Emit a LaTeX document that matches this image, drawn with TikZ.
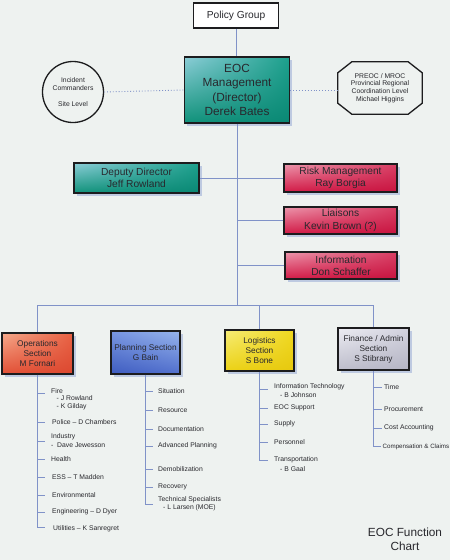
\documentclass[tikz,border=0pt]{standalone}
\usepackage{fontspec}
\setmainfont{Liberation Sans}
\usetikzlibrary{shadows,shadings,calc}
\definecolor{bgcol}{RGB}{238,242,240}
\definecolor{linecol}{RGB}{128,146,200}
\definecolor{shcol}{RGB}{178,192,222}
\definecolor{txtcol}{RGB}{40,40,45}
\definecolor{bordercol}{RGB}{28,28,30}
\definecolor{tealA}{RGB}{140,205,215}
\definecolor{tealB}{RGB}{28,160,140}
\definecolor{tealC}{RGB}{16,146,122}
\definecolor{tealD}{RGB}{10,136,116}
\definecolor{crimA}{RGB}{236,150,172}
\definecolor{crimB}{RGB}{216,62,100}
\definecolor{crimC}{RGB}{210,26,70}
\definecolor{crimD}{RGB}{200,20,64}
\definecolor{orA}{RGB}{245,170,140}
\definecolor{orB}{RGB}{232,96,66}
\definecolor{orC}{RGB}{226,80,54}
\definecolor{orD}{RGB}{220,72,48}
\definecolor{blA}{RGB}{120,150,225}
\definecolor{blB}{RGB}{150,180,235}
\definecolor{blC}{RGB}{62,92,192}
\definecolor{blD}{RGB}{82,112,206}
\definecolor{yeA}{RGB}{246,236,120}
\definecolor{yeB}{RGB}{240,216,30}
\definecolor{yeC}{RGB}{236,210,20}
\definecolor{yeD}{RGB}{230,200,15}
\definecolor{grA}{RGB}{236,236,242}
\definecolor{grB}{RGB}{210,210,222}
\definecolor{grC}{RGB}{190,190,204}
\definecolor{grD}{RGB}{180,180,196}
\begin{document}
\begin{tikzpicture}[x=1pt,y=-1pt,
  conn/.style={draw=linecol,line width=0.9pt},
  dotconn/.style={draw=linecol,line width=0.9pt,dotted},
  box/.style={draw=bordercol,line width=1.3pt,align=center,text=txtcol,inner sep=0pt,
     drop shadow={shadow xshift=2.5pt,shadow yshift=-2.5pt,fill=shcol,opacity=0.8}},
  bigfont/.style={font=\fontsize{11.8}{14.3}\selectfont},
  midfont/.style={font=\fontsize{10.2}{12.3}\selectfont},
  sectfont/.style={font=\fontsize{8.3}{10}\selectfont},
  smallfont/.style={font=\fontsize{6.8}{8}\selectfont},
  item/.style={font=\fontsize{6.8}{8}\selectfont,text=txtcol,anchor=west,inner sep=0pt},
  tealfill/.style={upper left=tealA,upper right=tealB,lower left=tealC,lower right=tealD},
  crimfill/.style={upper left=crimA,upper right=crimB,lower left=crimC,lower right=crimD},
  orfill/.style={upper left=orA,upper right=orB,lower left=orC,lower right=orD},
  blfill/.style={upper left=blA,upper right=blB,lower left=blC,lower right=blD},
  yefill/.style={upper left=yeA,upper right=yeB,lower left=yeC,lower right=yeD},
  grfill/.style={upper left=grA,upper right=grB,lower left=grC,lower right=grD}
]
\useasboundingbox (0,0) rectangle (450,560);
\fill[bgcol] (0,0) rectangle (450,560);
\clip (0,0) rectangle (450,560);

% top level
\node[draw=bordercol,line width=1.5pt,fill=white,midfont,text=txtcol,minimum width=85pt,minimum height=25pt,inner sep=0pt] (policy) at (236,15.5) {Policy Group};
\node[box,tealfill,bigfont,line width=1.6pt,minimum width=105pt,minimum height=66pt] (eoc) at (237,90) {EOC\\Management\\(Director)\\Derek Bates};
\node[circle,draw=bordercol,line width=1.3pt,minimum size=61pt,inner sep=0pt,smallfont,align=center,text=txtcol] (circ) at (73,92) {Incident\\Commanders\\[8pt]Site Level};
\node[smallfont,align=center,text=txtcol,minimum width=84pt,minimum height=52pt,inner sep=0pt,font=\fontsize{6.8}{7.7}\selectfont] (oct) at (380,88) {PREOC / MROC\\Provincial Regional\\Coordination Level\\Michael Higgins};
\draw[bordercol,line width=1.3pt] ($(oct.north west)+(14,0)$) -- ($(oct.north east)+(-14,0)$) -- ($(oct.north east)+(0,11)$) -- ($(oct.south east)+(0,-11)$) -- ($(oct.south east)+(-14,0)$) -- ($(oct.south west)+(14,0)$) -- ($(oct.south west)+(0,-11)$) -- ($(oct.north west)+(0,11)$) -- cycle;

% staff
\node[box,tealfill,midfont,minimum width=125pt,minimum height=30pt] (deputy) at (136.5,178) {Deputy Director\\Jeff Rowland};
\node[box,crimfill,midfont,minimum width=113pt,minimum height=28pt] (risk) at (340.5,178) {Risk Management\\Ray Borgia};
\node[box,crimfill,midfont,minimum width=113pt,minimum height=27pt] (liaisons) at (340.5,220.5) {Liaisons\\Kevin Brown (?)};
\node[box,crimfill,midfont,minimum width=112pt,minimum height=27pt] (info) at (341,265.5) {Information\\Don Schaffer};

% sections
\node[box,orfill,sectfont,minimum width=71pt,minimum height=41pt] (ops) at (37.5,353.5) {Operations\\Section\\M Fornari};
\node[box,blfill,sectfont,minimum width=69pt,minimum height=43pt] (plan) at (145.5,352.5) {Planning Section\\G Bain};
\node[box,yefill,sectfont,minimum width=69pt,minimum height=41pt] (log) at (259.5,350.5) {Logistics\\Section\\S Bone};
\node[box,grfill,sectfont,minimum width=71pt,minimum height=42pt] (fin) at (373.5,349) {Finance / Admin\\Section\\S Stibrany};

% connectors top
\draw[conn] (policy) -- (policy |- eoc.north);
\draw[dotconn] (circ.east) -- (eoc.west);
\draw[dotconn] (eoc.east) -- (eoc.east -| oct.west);
\coordinate (busL) at (37.5,305);
\coordinate (busR) at (373.5,305);
\coordinate (busM) at (237,305);
\draw[conn] (eoc.south) -- (busM);
\draw[conn] (deputy.east) -- (risk.west);
\draw[conn] (liaisons.west) -- (liaisons.west -| eoc.south);
\draw[conn] (info.west) -- (info.west -| eoc.south);
\draw[conn] (busL) -- (busR);
\draw[conn] (busL) -- (ops.north);
\draw[conn] (busR) -- (fin.north);
\draw[conn] (log.north |- busL) -- (log.north);

% operations list
\node[item] (o1) at (51,391) {Fire};
\node[item] (o1b) at (56.5,398.5) {- J Rowland};
\node[item] (o1c) at (56.5,407) {- K Gilday};
\node[item] (o2) at (52,422) {Police – D Chambers};
\node[item] (o3) at (51,437) {Industry};
\node[item] (o3b) at (51,445) {-\ \ Dave Jewesson};
\node[item] (o4) at (51,459) {Health};
\node[item] (o5) at (52,477) {ESS – T Madden};
\node[item] (o6) at (52,495) {Environmental};
\node[item] (o7) at (52,512) {Engineering – D Dyer};
\node[item] (o8) at (53,529) {Utilities – K Sanregret};
\coordinate (o1t) at ($(o1.west)+(0,2)$);
\coordinate (o3m) at ($(o3.west)!0.5!(o3b.west)$);
\foreach \n in {o1t,o2,o3m,o4,o5,o6,o7} \draw[conn] (ops.south |- \n) -- ++(7,0);
\coordinate (oEnd) at ($(ops.south |- o8.west)+(7,-2)$);
\draw[conn] (ops.south) |- (oEnd);

% planning list
\node[item] (p1) at (158,391) {Situation};
\node[item] (p2) at (158,410) {Resource};
\node[item] (p3) at (158,429) {Documentation};
\node[item] (p4) at (158,446) {Advanced Planning};
\node[item] (p5) at (158,469) {Demobilization};
\node[item] (p6) at (158,487) {Recovery};
\node[item] (p7) at (158,500) {Technical Specialists};
\node[item] (p7b) at (163,508) {- L Larsen (MOE)};
\foreach \n in {p1,p2,p3,p4,p5,p6} \draw[conn] (plan.south |- \n.west) -- ++(7,0);
\coordinate (p7m) at ($(p7.west)!0.5!(p7b.west)$);
\coordinate (pEnd) at ($(plan.south |- p7m)+(7,0)$);
\draw[conn] (plan.south) |- (pEnd);

% logistics list
\node[item] (l1) at (274,387) {Information Technology};
\node[item] (l1b) at (280,395) {- B Johnson};
\node[item] (l2) at (274,408) {EOC Support};
\node[item] (l3) at (274,424) {Supply};
\node[item] (l4) at (274,442) {Personnel};
\node[item] (l5) at (274,460) {Transportation};
\node[item] (l5b) at (280,469) {- B Gaal};
\coordinate (l1t) at ($(l1.west)+(0,2)$);
\foreach \n in {l1t,l2,l3,l4} \draw[conn] (log.south |- \n) -- ++(8,0);
\coordinate (lEnd) at ($(log.south |- l5.west)+(8,0)$);
\draw[conn] (log.south) |- (lEnd);

% finance list
\node[item] (f1) at (384,387) {Time};
\node[item] (f2) at (384,409) {Procurement};
\node[item] (f3) at (384,428) {Cost Accounting};
\node[item,font=\fontsize{6.2}{8}\selectfont] (f4) at (382.5,447) {Compensation \& Claims};
\foreach \n in {f1,f2,f3} \draw[conn] (fin.south |- \n.west) -- ++(8,0);
\coordinate (fEnd) at ($(fin.south |- f4.west)+(7,-1)$);
\draw[conn] (fin.south) |- (fEnd);

% title
\node[bigfont,align=center,text=txtcol,inner sep=0pt] (title) at (405,539) {EOC Function\\Chart};
\end{tikzpicture}
\end{document}
